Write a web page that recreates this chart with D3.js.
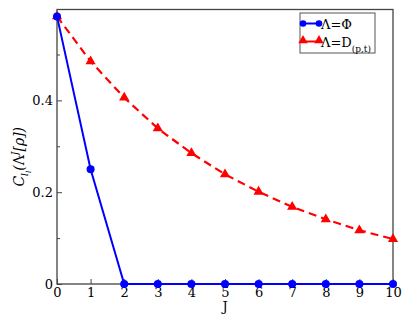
<!DOCTYPE html>
<html>
<head>
<meta charset="utf-8">
<script src="https://cdn.jsdelivr.net/npm/d3@7"></script>
<style>
  body { margin: 0; background: #fff; }
</style>
</head>
<body>
<div id="chart"></div>
<script>
// data
var jValues = [0, 1, 2, 3, 4, 5, 6, 7, 8, 9, 10];
var phiValues = [0.583, 0.25, 0, 0, 0, 0, 0, 0, 0, 0, 0];
var dValues = [0.583, 0.485, 0.406, 0.339, 0.285, 0.239, 0.201, 0.168, 0.141, 0.117, 0.098];
var xTicks = [0, 1, 2, 3, 4, 5, 6, 7, 8, 9, 10];
var yTicks = [0, 0.2, 0.4];
var yMinorTicks = [0.1, 0.3, 0.5];

var serif = "'DejaVu Serif', 'Liberation Serif', 'Times New Roman', serif";

var width = 409, height = 316;
var margin = {top: 9.5, right: 16, bottom: 32, left: 57};
var w = width - margin.left - margin.right,
    h = height - margin.top - margin.bottom;

var svg = d3.select("#chart").append("svg")
    .attr("width", width)
    .attr("height", height)
    .style("font-family", serif);

var g = svg.append("g")
    .attr("transform", `translate(${margin.left},${margin.top})`);

var x = d3.scaleLinear().domain([0, 10]).range([0, w]);
var y = d3.scaleLinear().domain([0, 0.598]).range([h, 0]);

var axisColor = "#444";

// frame
g.append("rect")
    .attr("width", w)
    .attr("height", h)
    .attr("fill", "none")
    .attr("stroke", axisColor)
    .attr("stroke-width", 1.3);

// x axis, ticks pointing inward
var xAxis = d3.axisBottom(x)
    .tickValues(xTicks)
    .tickSize(-5)
    .tickFormat(d3.format("d"));

g.append("g")
    .attr("transform", `translate(0,${h})`)
    .call(xAxis)
    .attr("font-family", null)
    .call(s => s.select(".domain").remove())
    .call(s => s.selectAll("line").attr("stroke", axisColor))
    .call(s => s.selectAll("text")
        .style("font-family", serif)
        .attr("font-size", 13)
        .attr("fill", "#000")
        .attr("y", 12.5)
        .attr("dy", 0));

// y axis
var yAxis = d3.axisLeft(y)
    .tickValues(yTicks)
    .tickSize(-5)
    .tickPadding(4)
    .tickFormat(d => d === 0 ? "0" : d3.format(".1f")(d));

g.append("g")
    .call(yAxis)
    .attr("font-family", null)
    .call(s => s.select(".domain").remove())
    .call(s => s.selectAll("line").attr("stroke", axisColor))
    .call(s => s.selectAll("text")
        .style("font-family", serif)
        .attr("font-size", 13)
        .attr("fill", "#000"));

g.append("g")
    .call(d3.axisLeft(y).tickValues(yMinorTicks).tickSize(-3).tickFormat(""))
    .call(s => s.select(".domain").remove())
    .call(s => s.selectAll("line").attr("stroke", axisColor));

// axis titles
svg.append("text")
    .attr("x", margin.left + x(5))
    .attr("y", 311)
    .attr("text-anchor", "middle")
    .attr("font-size", 13)
    .style("font-family", serif)
    .text("J");

var yTitle = svg.append("text")
    .attr("transform", `translate(24,${margin.top + h / 2 + 10}) rotate(-90)`)
    .attr("text-anchor", "middle")
    .attr("font-size", 14)
    .style("font-family", serif);
yTitle.append("tspan").attr("font-style", "italic").text("C");
yTitle.append("tspan").attr("font-style", "italic").attr("font-size", 9).attr("dy", 4).text("l");
yTitle.append("tspan").attr("font-style", "italic").attr("font-size", 7).attr("dy", 3).text("l");
yTitle.append("tspan").attr("font-style", "italic").attr("dy", -7).text("(");
yTitle.append("tspan").text("Λ");
yTitle.append("tspan").attr("font-style", "italic").attr("font-size", 9).attr("dy", -6).text("J");
yTitle.append("tspan").attr("font-style", "italic").attr("dy", 6).text("[ρ])");

// series
var lineGen = d3.line()
    .x((d, i) => x(jValues[i]))
    .y(d => y(d));

g.append("path")
    .datum(dValues)
    .attr("d", lineGen)
    .attr("fill", "none")
    .attr("stroke", "#ff0000")
    .attr("stroke-width", 2.2)
    .attr("stroke-dasharray", "8,5");

g.append("path")
    .datum(phiValues)
    .attr("d", lineGen)
    .attr("fill", "none")
    .attr("stroke", "#0000ff")
    .attr("stroke-width", 2);

var tri = d3.symbol().type(d3.symbolTriangle).size(45);

g.selectAll(".tri")
    .data(dValues)
  .enter().append("path")
    .attr("class", "tri")
    .attr("d", tri)
    .attr("transform", (d, i) => `translate(${x(jValues[i])},${y(d)})`)
    .attr("fill", "#ff0000");

g.selectAll(".dot")
    .data(phiValues)
  .enter().append("circle")
    .attr("class", "dot")
    .attr("cx", (d, i) => x(jValues[i]))
    .attr("cy", d => y(d))
    .attr("r", 4)
    .attr("fill", "#0000ff");

// legend
var legend = svg.append("g").attr("transform", "translate(300,13)");

legend.append("rect")
    .attr("width", 75)
    .attr("height", 40)
    .attr("fill", "#fff")
    .attr("stroke", "#555")
    .attr("stroke-width", 1);

var items = [
  {name: "Λ=Φ", color: "#0000ff", shape: "circle", y: 10.5},
  {name: "Λ=D", sub: "(p,t)", color: "#ff0000", shape: "triangle", y: 28.5}
];

items.forEach(function (it) {
  legend.append("line")
      .attr("x1", 3).attr("x2", 19)
      .attr("y1", it.y).attr("y2", it.y)
      .attr("stroke", it.color)
      .attr("stroke-width", 2);
  [3, 19].forEach(function (px) {
    if (it.shape === "circle") {
      legend.append("circle").attr("cx", px).attr("cy", it.y).attr("r", 3.3).attr("fill", it.color);
    } else {
      legend.append("path").attr("d", d3.symbol().type(d3.symbolTriangle).size(38))
          .attr("transform", `translate(${px},${it.y - 1})`).attr("fill", it.color);
    }
  });
  var t = legend.append("text")
      .attr("x", 21)
      .attr("y", it.y + 5)
      .attr("font-size", 13)
      .style("font-family", serif)
      .text(it.name);
  if (it.sub) {
    t.append("tspan").attr("font-size", 9).attr("dy", 5).text(it.sub);
  }
});
</script>
</body>
</html>
